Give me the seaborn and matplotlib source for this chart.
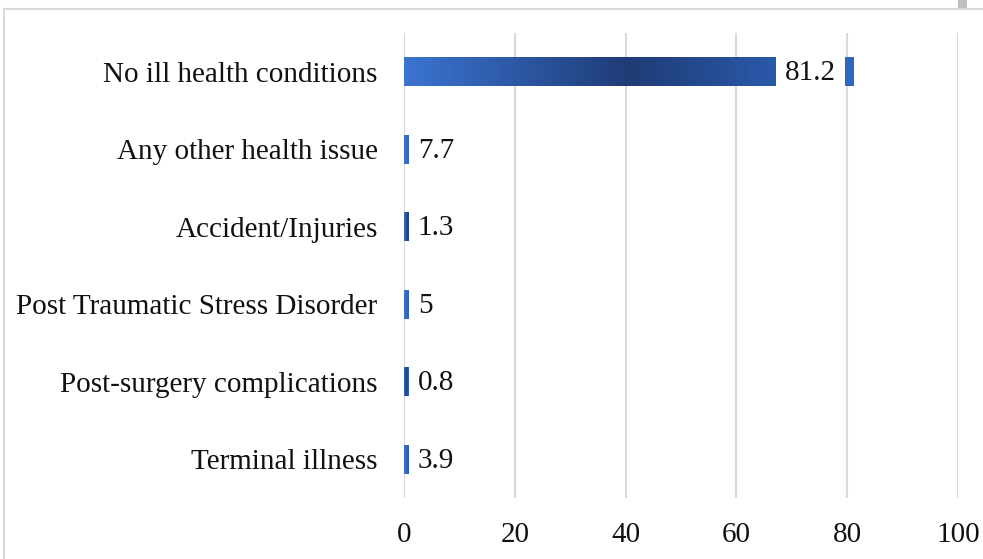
import numpy as np
import pandas as pd
import matplotlib
matplotlib.use('Agg')
import matplotlib.pyplot as plt
from matplotlib.colors import LinearSegmentedColormap
from matplotlib.lines import Line2D
from matplotlib.patches import Rectangle
import seaborn as sns

# data
categories = ["No ill health conditions", "Any other health issue", "Accident/Injuries",
              "Post Traumatic Stress Disorder", "Post-surgery complications", "Terminal illness"]
values = [81.2, 7.7, 1.3, 5, 0.8, 3.9]
value_labels = ["81.2", "7.7", "1.3", "5", "0.8", "3.9"]
x_ticks = [0, 20, 40, 60, 80, 100]

df = pd.DataFrame({'category': categories, 'value': values})

sns.set_style('white')
plt.rcParams['font.family'] = ['Liberation Serif', 'DejaVu Serif']
fs = 21

fig = plt.figure(figsize=(9.83, 5.59), dpi=100)
ax = fig.add_axes([404 / 983, 1 - 498 / 559, (958 - 404) / 983, (498 - 33) / 559])

sns.barplot(data=df, x='value', y='category', orient='h', color='#2F5FB5',
            width=0.37, ax=ax, zorder=2)

# gradient fill: light blue at the ends, navy in the middle
cmap = LinearSegmentedColormap.from_list('bar', ['#3B74D1', '#1F3C76', '#3069C4'])
grad = np.linspace(0, 1, 256).reshape(1, -1)
for p in ax.patches:
    x0, y0 = p.get_x(), p.get_y()
    w, h = p.get_width(), p.get_height()
    p.set_facecolor('none')
    p.set_edgecolor('none')
    im = ax.imshow(grad, cmap=cmap, aspect='auto', extent=(x0, x0 + w, y0 + h, y0),
                   zorder=2, interpolation='bicubic')
    im.set_clip_path(p)

# value labels on white boxes
box = dict(boxstyle='square,pad=0.3', fc='white', ec='none')
for i, (v, lab) in enumerate(zip(values, value_labels)):
    if v > 50:
        ax.text(78.0, i + 0.02, lab, ha='right', va='center', fontsize=fs, color='#111111',
                bbox=box, zorder=3)
    else:
        ax.text(2.5, i + 0.02, lab, ha='left', va='center', fontsize=fs, color='#111111',
                bbox=box, zorder=3)

ax.set_xlim(0, 100)
ax.set_ylim(5.5, -0.5)
ax.set_xticks(x_ticks)
ax.set_xticklabels([str(t) for t in x_ticks])
ax.xaxis.grid(True, color='#D9D9D9', linewidth=1.5, zorder=0)
ax.yaxis.grid(False)
ax.set_axisbelow(True)
ax.set_xlabel('')
ax.set_ylabel('')
for s in ax.spines.values():
    s.set_visible(False)
ax.tick_params(axis='y', length=0, pad=19, labelsize=fs, labelcolor='#111111')
ax.tick_params(axis='x', length=0, pad=17, labelsize=fs, labelcolor='#111111')

# chart border (only top and left edges visible) and the little handle at the top
fig.add_artist(Line2D([4 / 983, 1], [1 - 9 / 559, 1 - 9 / 559], transform=fig.transFigure,
                      color='#D9D9D9', linewidth=1.5))
fig.add_artist(Line2D([4 / 983, 4 / 983], [0, 1 - 9 / 559], transform=fig.transFigure,
                      color='#D9D9D9', linewidth=1.5))
fig.add_artist(Rectangle((958 / 983, 1 - 9 / 559), 9 / 983, 9 / 559,
                         transform=fig.transFigure, fc='#BFBFBF', ec='none'))

fig.savefig('out.png', dpi=100)
